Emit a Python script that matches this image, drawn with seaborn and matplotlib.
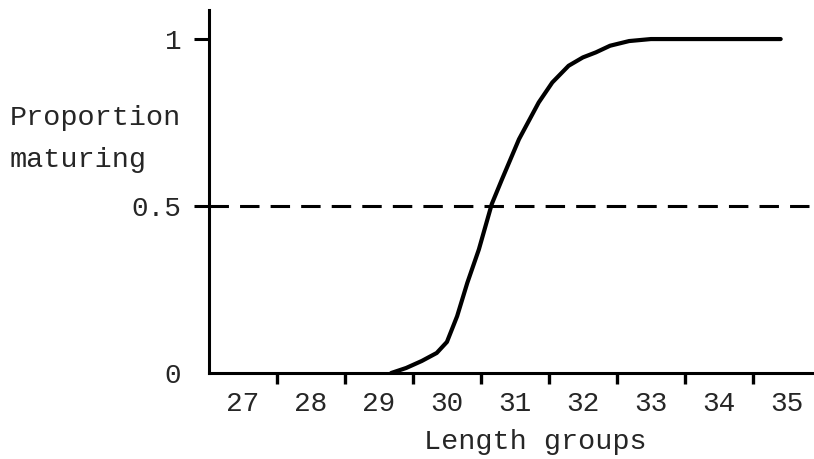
import numpy as np
import pandas as pd
import seaborn as sns
import matplotlib.pyplot as plt

# values
length = [29.18, 29.4, 29.63, 29.85, 30.0, 30.15, 30.3, 30.47, 30.66, 30.81,
          31.06, 31.35, 31.55, 31.79, 32.0, 32.19, 32.4, 32.68, 33.0, 33.41, 34.91]
proportion = [0, 0.015, 0.036, 0.06, 0.093, 0.17, 0.27, 0.37, 0.506, 0.58,
              0.70, 0.81, 0.87, 0.92, 0.945, 0.96, 0.98, 0.994, 1.0, 1.0, 1.0]
groups = [27, 28, 29, 30, 31, 32, 33, 34, 35]
bounds = [27.5, 28.5, 29.5, 30.5, 31.5, 32.5, 33.5, 34.5]
y_ticks = [0, 0.5, 1]
y_labels = ["0", "0.5", "1"]

df = pd.DataFrame({"Length": length, "Proportion": proportion})

sns.set_style("white")
plt.rcParams["font.family"] = ["Liberation Mono", "DejaVu Sans Mono"]
plt.rcParams["lines.scale_dashes"] = False
fs = 20.5
tfs = 20

fig = plt.figure(figsize=(8.14, 4.59), dpi=100)
ax = fig.add_axes([209 / 814, 86 / 459, 605 / 814, 363 / 459])

sns.lineplot(data=df, x="Length", y="Proportion", ax=ax, color="black",
             linewidth=3.0, solid_capstyle="round", solid_joinstyle="round")
ax.axhline(0.5, color="black", linewidth=2.2, dashes=(14, 8))

ax.set_xlim(26.5, 35.4)
ax.set_ylim(0, 1.087)

# group boundaries get the tick marks, group numbers sit between them
ax.set_xticks(bounds)
ax.set_xticklabels([])
ax.set_xticks(groups, minor=True)
ax.set_xticklabels([str(g) for g in groups], minor=True, fontsize=tfs)
ax.tick_params(axis="x", which="major", direction="out", length=8, width=2.4,
               color="black", bottom=True)
ax.tick_params(axis="x", which="minor", length=0, pad=13, bottom=True)

ax.set_yticks(y_ticks)
ax.set_yticklabels(y_labels, fontsize=tfs)
ax.tick_params(axis="y", direction="out", length=11, width=2.2, color="black",
               pad=9, left=True)
ax.yaxis.get_major_ticks()[0].tick1line.set_visible(False)

for side in ["top", "right"]:
    ax.spines[side].set_visible(False)
for side in ["left", "bottom"]:
    ax.spines[side].set_linewidth(2.2)
    ax.spines[side].set_color("black")

ax.set_xlabel("Length groups", fontsize=fs)
ax.xaxis.set_label_coords(0.539, -0.155)
ax.set_ylabel("")

fig.text(10 / 814, 1 - 118 / 459, "Proportion", fontsize=fs,
         ha="left", va="center")
fig.text(10 / 814, 1 - 160 / 459, "maturing", fontsize=fs,
         ha="left", va="center")

fig.savefig("out.png", dpi=100, facecolor="white")
